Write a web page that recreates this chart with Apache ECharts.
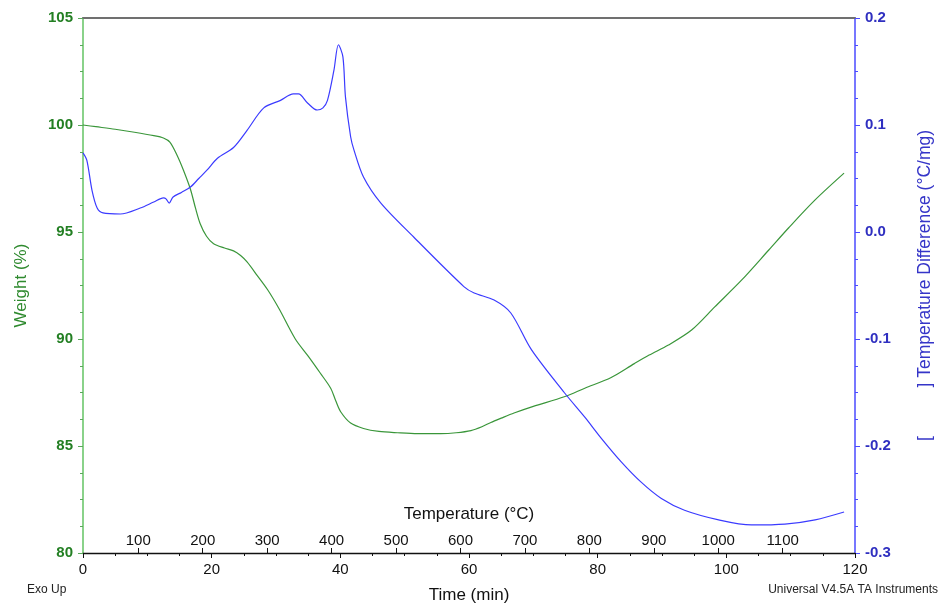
<!DOCTYPE html>
<html>
<head>
<meta charset="utf-8">
<script src="https://cdn.jsdelivr.net/npm/echarts@6/dist/echarts.min.js"></script>
<style>
  html, body { margin: 0; padding: 0; background: #fff; }
  #chart { width: 941px; height: 603px; }
</style>
</head>
<body>
<div id="chart"></div>
<script>
// weight curve (time in min, weight in %)
const weightTime = [0, 2, 5, 8, 11, 12.5, 13.5, 14.6, 15.6, 16.7, 17.5, 18.2, 19.2, 20.3, 22, 23.4,
  24.5, 25.5, 27, 28.7, 30.5, 33, 35, 36.9, 38.5, 39.3, 40.05, 41.6, 43.6, 46, 48.9, 52, 55.6,
  58, 60.3, 62, 63.4, 65, 67, 70, 74.8, 78, 82.1, 85.7, 88, 91, 94.6, 98.2, 102.4, 106.6,
  109.7, 113.8, 118.3]
const weightPct = [100.0, 99.92, 99.8, 99.66, 99.5, 99.39, 99.2, 98.6, 97.9, 97.0, 96.1, 95.4, 94.8,
  94.45, 94.25, 94.12, 93.9, 93.6, 93.0, 92.3, 91.4, 90.0, 89.2, 88.4, 87.7, 87.1, 86.6, 86.07,
  85.82, 85.68, 85.62, 85.58, 85.58, 85.62, 85.72, 85.9, 86.1, 86.3, 86.54, 86.85, 87.3, 87.7,
  88.2, 88.85, 89.25, 89.72, 90.42, 91.5, 92.76, 94.16, 95.2, 96.5, 97.75]

// temperature difference curve (time in min, °C/mg)
const dtaTime = [0, 0.6, 1.4, 2.2, 3.1, 5.8, 8.9, 11, 12.5, 12.9, 13.4, 14, 15.3, 16.7, 18, 19.3,
  20.9, 23.4, 25.5, 28.1, 30.7, 32.7, 33.5, 34.9, 36.4, 37.3, 38, 39, 39.7, 40.4, 40.8, 41.6,
  42.1, 43.6, 46.3, 51.4, 59.2, 60.8, 63.9, 66.5, 69.7, 74.8, 78, 80.6, 83.7, 86.8, 89.9, 93.5,
  98.8, 103.9, 109.1, 113.8, 118.3]
const dtaValue = [0.074, 0.067, 0.039, 0.0224, 0.0178, 0.0168, 0.0224, 0.028, 0.0318, 0.031, 0.027,
  0.0327, 0.037, 0.042, 0.05, 0.058, 0.069, 0.079, 0.095, 0.116, 0.123, 0.129, 0.129, 0.1206,
  0.114, 0.116, 0.123, 0.151, 0.175, 0.1636, 0.126, 0.089, 0.077, 0.0514, 0.027, -0.0047,
  -0.051, -0.057, -0.0636, -0.0757, -0.110, -0.150, -0.173, -0.193, -0.215, -0.234, -0.249,
  -0.260, -0.269, -0.2738, -0.273, -0.269, -0.2617]

// secondary temperature scale along the bottom
const tempTicks = [100, 200, 300, 400, 500, 600, 700, 800, 900, 1000, 1100]
const tempRange = [14.2, 1212.2]

const font = 'Liberation Sans, Arial, sans-serif'
const green = '#3a963a'
const blue = '#3b3bff'

const chart = echarts.init(document.getElementById('chart'))

const option = {
  animation: false,
  backgroundColor: '#fff',
  textStyle: { fontFamily: font },
  grid: { left: 83, right: 86, top: 18, bottom: 50, outerBoundsMode: 'none', containLabel: false },
  xAxis: [
    {
      type: 'value',
      min: 0,
      max: 120,
      interval: 20,
      name: 'Time (min)',
      nameLocation: 'middle',
      nameGap: 34,
      nameTextStyle: { color: '#111', fontSize: 17 },
      axisLine: { onZero: false, lineStyle: { color: '#111', width: 1.3 } },
      axisTick: { length: 5, lineStyle: { color: '#111' } },
      minorTick: { show: true, splitNumber: 4, length: 3, lineStyle: { color: '#111' } },
      axisLabel: { color: '#111', fontSize: 15, margin: 9 },
      splitLine: { show: false },
    },
    {
      // temperature scale drawn on the same line, labels above it
      type: 'value',
      position: 'bottom',
      min: tempRange[0],
      max: tempRange[1],
      name: 'Temperature (°C)',
      nameLocation: 'middle',
      nameGap: -47,
      nameTextStyle: { color: '#111', fontSize: 17 },
      axisLine: { show: false, onZero: false },
      axisTick: { inside: true, length: 5, customValues: tempTicks, lineStyle: { color: '#111' } },
      axisLabel: {
        inside: true,
        color: '#111',
        fontSize: 15,
        margin: 5,
        customValues: tempTicks,
        formatter: (v) => String(v),
      },
      splitLine: { show: false },
    },
    {
      // top border
      type: 'value',
      position: 'top',
      min: 0,
      max: 120,
      axisLine: { onZero: false, lineStyle: { color: '#707070', width: 2 } },
      axisTick: { show: false },
      axisLabel: { show: false },
      splitLine: { show: false },
    },
  ],
  yAxis: [
    {
      type: 'value',
      min: 80,
      max: 105,
      interval: 5,
      position: 'left',
      name: 'Weight (%)',
      nameLocation: 'middle',
      nameRotate: 90,
      nameGap: 53,
      nameTextStyle: { color: '#2f8a2f', fontSize: 17 },
      axisLine: { show: true, onZero: false, lineStyle: { color: '#8ad28a', width: 2 } },
      axisTick: { show: true, length: 5, lineStyle: { color: '#5aa85a' } },
      minorTick: { show: true, splitNumber: 4, length: 3, lineStyle: { color: '#5aa85a' } },
      axisLabel: { color: '#237f23', fontSize: 15, fontWeight: 'bold', margin: 10 },
      splitLine: { show: false },
    },
    {
      type: 'value',
      min: -0.3,
      max: 0.2,
      interval: 0.1,
      position: 'right',
      name: '[          ] Temperature Difference (°C/mg)',
      nameLocation: 'middle',
      nameRotate: 90,
      nameGap: 61,
      nameTextStyle: { color: '#3535c8', fontSize: 17.5 },
      axisLine: { show: true, onZero: false, lineStyle: { color: '#4a4aff', width: 1.5 } },
      axisTick: { show: true, length: 5, lineStyle: { color: '#4a4aff' } },
      minorTick: { show: true, splitNumber: 4, length: 3, lineStyle: { color: '#4a4aff' } },
      axisLabel: {
        color: '#2f2fc0',
        fontSize: 15,
        fontWeight: 'bold',
        margin: 10,
        formatter: (v) => v.toFixed(1),
      },
      splitLine: { show: false },
    },
  ],
  series: [
    {
      name: 'Weight',
      type: 'line',
      xAxisIndex: 0,
      yAxisIndex: 0,
      smooth: 0.3,
      showSymbol: false,
      lineStyle: { color: green, width: 1.2 },
      data: weightTime.map((t, i) => [t, weightPct[i]]),
    },
    {
      name: 'Temperature Difference',
      type: 'line',
      xAxisIndex: 0,
      yAxisIndex: 1,
      smooth: 0.3,
      showSymbol: false,
      lineStyle: { color: blue, width: 1.2 },
      data: dtaTime.map((t, i) => [t, dtaValue[i]]),
    },
  ],
  graphic: [
    {
      type: 'text',
      left: 27,
      top: 584,
      style: { text: 'Exo Up', fill: '#222', font: '12px ' + font },
    },
    {
      type: 'text',
      right: 3,
      top: 584,
      style: { text: 'Universal V4.5A TA Instruments', fill: '#222', font: '12px ' + font },
    },
  ],
}

chart.setOption(option)
</script>
</body>
</html>
